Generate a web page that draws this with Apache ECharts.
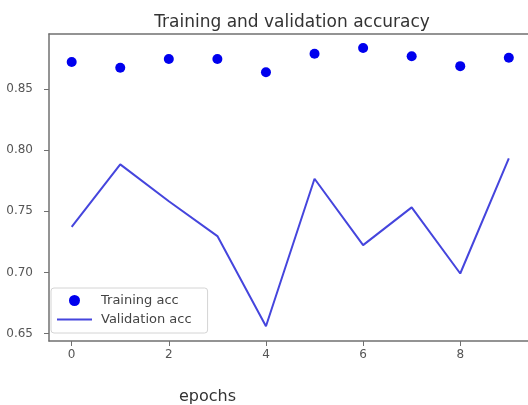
<!DOCTYPE html>
<html>
<head>
<meta charset="utf-8">
<script src="https://cdn.jsdelivr.net/npm/echarts@6/dist/echarts.min.js"></script>
<style>
html,body{margin:0;padding:0;background:#fff;}
#chart{width:528px;height:405px;}
</style>
</head>
<body>
<div id="chart"></div>
<script>
var epochs = [0, 1, 2, 3, 4, 5, 6, 7, 8, 9];
var trainingAcc = [0.8721, 0.8674, 0.8746, 0.8746, 0.8637, 0.8789, 0.8836, 0.8768, 0.8687, 0.8756];
var validationAcc = [0.7373, 0.7884, 0.7582, 0.7297, 0.6560, 0.7766, 0.7223, 0.7532, 0.6991, 0.7933];
var xTicks = [0, 2, 4, 6, 8];
var yTicks = [0.65, 0.70, 0.75, 0.80, 0.85];

var chart = echarts.init(document.getElementById('chart'), null, {renderer: 'canvas'});
var font = 'DejaVu Sans';
var axisColor = '#707070';
var option = {
  backgroundColor: '#ffffff',
  animation: false,
  title: [
    {text: 'Training and validation accuracy', left: 287, top: 9, textAlign: 'center',
     textStyle: {fontFamily: font, fontSize: 17, fontWeight: 'normal', color: '#333'}},
    {text: 'epochs', left: 174, top: 384,
     textStyle: {fontFamily: font, fontSize: 16, fontWeight: 'normal', color: '#333'}}
  ],
  grid: {left: 49, right: 0, top: 34, bottom: 64, show: false},
  legend: {
    orient: 'vertical', left: 51, top: 288,
    padding: [6, 16, 7, 6], itemGap: 6, itemWidth: 35, itemHeight: 11,
    borderColor: '#d4d4d4', borderWidth: 1, borderRadius: 3, backgroundColor: 'rgba(255,255,255,0.8)',
    textStyle: {fontFamily: font, fontSize: 13, color: '#444', padding: [0, 0, 0, 4]},
    data: [
      {name: 'Training acc', icon: 'circle', itemStyle: {color: '#0000ee', opacity: 1}},
      {name: 'Validation acc', icon: 'path://M0,0 L35,0 L35,2 L0,2 Z', itemStyle: {color: '#4545dd'}}
    ]
  },
  xAxis: [{
    type: 'value', min: -0.467, max: 9.395, position: 'bottom',
    axisLine: {show: true, onZero: false, lineStyle: {color: axisColor, width: 1.5}},
    axisTick: {show: true, length: 5, lineStyle: {color: axisColor}, customValues: xTicks},
    axisLabel: {fontFamily: font, fontSize: 12, color: '#555', margin: 8, customValues: xTicks},
    splitLine: {show: false}
  }, {
    type: 'value', min: -0.467, max: 9.395, position: 'top',
    axisLine: {show: true, onZero: false, lineStyle: {color: axisColor, width: 1.5}},
    axisTick: {show: false}, axisLabel: {show: false}, splitLine: {show: false}
  }],
  yAxis: {
    type: 'value', min: 0.6439, max: 0.895, position: 'left',
    axisLine: {show: true, onZero: false, lineStyle: {color: axisColor, width: 1.5}},
    axisTick: {show: true, length: 5, lineStyle: {color: axisColor}, customValues: yTicks},
    axisLabel: {fontFamily: font, fontSize: 12, color: '#555', margin: 16, customValues: yTicks,
      formatter: function (v) { return v.toFixed(2); }},
    splitLine: {show: false}
  },
  series: [
    {name: 'Training acc', type: 'scatter', symbol: 'circle', symbolSize: 10,
     itemStyle: {color: '#0000ee', opacity: 1},
     data: epochs.map(function (e, i) { return [e, trainingAcc[i]]; })},
    {name: 'Validation acc', type: 'line', symbol: 'none', showSymbol: false,
     lineStyle: {color: '#4545dd', width: 2},
     itemStyle: {color: '#4545dd'},
     data: epochs.map(function (e, i) { return [e, validationAcc[i]]; })}
  ]
};
chart.setOption(option);
</script>
</body>
</html>
